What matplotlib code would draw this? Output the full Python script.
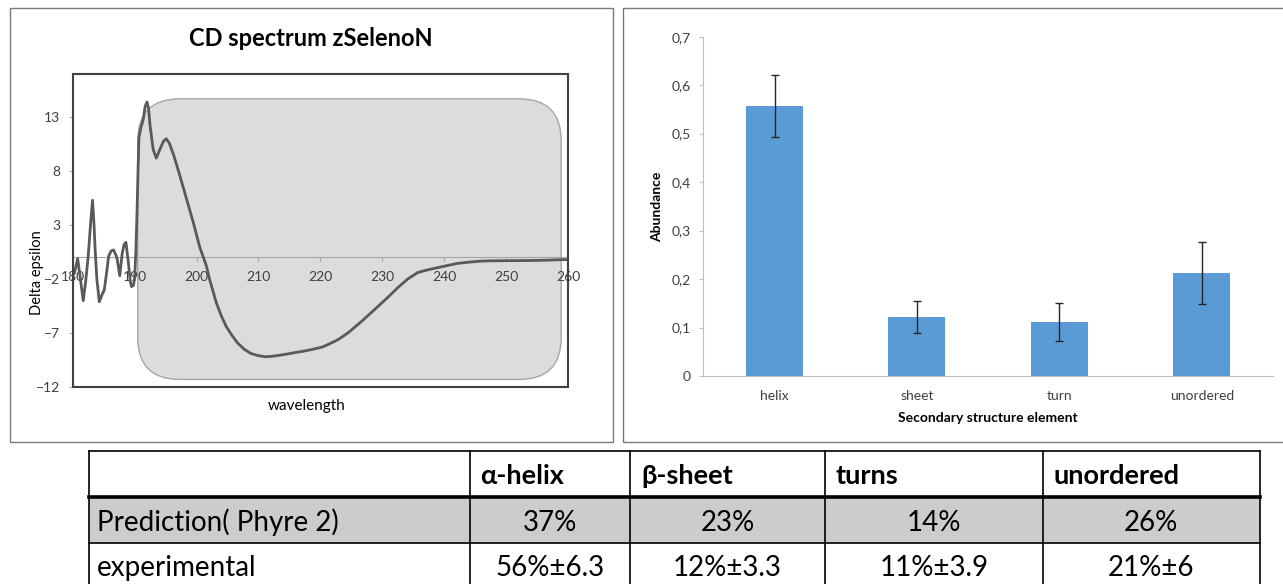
import matplotlib
matplotlib.use('Agg')
import matplotlib.pyplot as plt
from matplotlib.patches import Rectangle, FancyBboxPatch
from matplotlib.ticker import FuncFormatter

plt.rcParams['font.family'] = ['Lato', 'DejaVu Sans']

# CD spectrum
wavelength = [180.3, 180.8, 181.2, 181.7, 182.1, 182.5, 182.9, 183.2, 183.45, 183.6,
              183.9, 184.3, 184.7, 185.1, 185.5, 185.8, 186.2, 186.6, 187.0, 187.2,
              187.6, 188.0, 188.3, 188.6, 189.0, 189.3, 189.5, 189.8, 190.0, 190.2,
              190.4, 190.55, 190.7, 191.0, 191.4, 191.7, 192.0, 192.25, 192.5, 193.0,
              193.5, 194.0, 194.3, 194.7, 195.1, 195.6, 196.3, 197.3, 198.4, 199.5,
              200.5, 201.6, 202.1, 203.2, 204.0, 204.8, 205.7, 206.6, 207.7, 208.8,
              210.0, 211.2, 212.3, 213.3, 214.6, 216.0, 217.6, 219.2, 220.3, 221.3,
              222.9, 224.5, 226.7, 228.8, 230.7, 232.5, 234.1, 235.7, 237.3, 238.9,
              240.5, 242.1, 244.0, 245.8, 247.6, 249.5, 251.6, 253.8, 256.5, 259.1, 260.0]
delta_eps = [-1.4, -0.1, -1.8, -4.0, -2.2, 0.1, 3.2, 5.3, 3.0, 1.0,
             -2.0, -4.1, -3.5, -3.0, -1.3, 0.1, 0.6, 0.7, 0.2, -0.2,
             -1.7, 0.4, 1.2, 1.4, -0.5, -2.2, -2.7, -2.6, -2.0, 0.5,
             4.4, 8.0, 11.1, 12.0, 12.8, 14.0, 14.4, 13.8, 12.2, 10.0,
             9.2, 9.9, 10.3, 10.8, 11.0, 10.6, 9.5, 7.6, 5.4, 3.2,
             1.0, -0.8, -2.0, -4.2, -5.4, -6.4, -7.2, -7.9, -8.5, -8.9,
             -9.1, -9.2, -9.15, -9.07, -8.95, -8.8, -8.65, -8.45, -8.3, -8.05,
             -7.6, -6.97, -5.9, -4.8, -3.8, -2.8, -2.0, -1.4, -1.15, -0.95,
             -0.75, -0.55, -0.43, -0.34, -0.31, -0.3, -0.29, -0.28, -0.25, -0.2, -0.2]
cd_xticks = [180, 190, 200, 210, 220, 230, 240, 250, 260]
cd_yticks = [-12, -7, -2, 3, 8, 13]

# secondary structure bar chart
categories = ['helix', 'sheet', 'turn', 'unordered']
abundance = [0.557, 0.122, 0.112, 0.213]
abundance_err = [0.063, 0.033, 0.039, 0.064]

# table
table_header = ['', 'α-helix', 'β-sheet', 'turns', 'unordered']
pred_row = ['Prediction( Phyre 2)', '37%', '23%', '14%', '26%']
exp_row = ['experimental', '56%±6.3', '12%±3.3', '11%±3.9', '21%±6']

W, H = 1283, 584
fig = plt.figure(figsize=(W / 100, H / 100), dpi=100)


def frac(x0, y0, x1, y1):
    return [x0 / W, 1 - y1 / H, (x1 - x0) / W, (y1 - y0) / H]


# background layer in pixel coordinates: frames, labels, table
bg = fig.add_axes([0, 0, 1, 1], zorder=0)
bg.set_xlim(0, W)
bg.set_ylim(H, 0)
bg.axis('off')

frame_col = '#7A7A7A'
bg.add_patch(Rectangle((10, 8), 603, 434, fill=False, ec=frame_col, lw=1))
bg.add_patch(Rectangle((623, 8), 700, 434, fill=False, ec=frame_col, lw=1))

bg.text(311, 46, 'CD spectrum zSelenoN', ha='center', va='baseline',
        fontsize=17, fontweight='bold', color='black')
bg.text(307, 406, 'wavelength', ha='center', va='center', fontsize=11)
bg.text(37, 273, 'Delta epsilon', ha='center', va='center', rotation=90, fontsize=10.5)
bg.text(657, 207, 'Abundance', ha='center', va='center', rotation=90,
        fontsize=10, fontweight='bold')
bg.text(988, 418, 'Secondary structure element', ha='center', va='center',
        fontsize=10, fontweight='bold')

# table
col_x = [89, 469.5, 630, 825, 1042.7, 1260]
row_y = [451, 496.5, 543.3, 600]
bg.add_patch(Rectangle((col_x[0], row_y[1]), col_x[-1] - col_x[0], row_y[2] - row_y[1],
                       fc='#CCCCCC', ec='none'))
bg.plot([col_x[0], col_x[-1]], [row_y[0], row_y[0]], color='black', lw=1.2)
bg.plot([col_x[0], col_x[-1]], [row_y[1], row_y[1]], color='black', lw=2.6)
bg.plot([col_x[0], col_x[-1]], [row_y[2], row_y[2]], color='black', lw=1.2)
for cx in col_x:
    bg.plot([cx, cx], [row_y[0], H + 5], color='black', lw=1.2, clip_on=False)

for i, txt in enumerate(table_header):
    bg.text(col_x[i] + 11, 484.5, txt, ha='left', va='baseline',
            fontsize=19.5, fontweight='bold')
for row, base in [(pred_row, 531), (exp_row, 576)]:
    bg.text(col_x[0] + 8, base, row[0], ha='left', va='baseline', fontsize=20)
    for i in range(1, 5):
        bg.text((col_x[i] + col_x[i + 1]) / 2, base, row[i], ha='center',
                va='baseline', fontsize=20)

# CD spectrum
ax1 = fig.add_axes(frac(72.7, 74, 568, 387), zorder=1)
ax1.set_xlim(180, 260)
ax1.set_ylim(-12, 17)
box = FancyBboxPatch((190.5, -11.3), 258.9 - 190.5, 14.7 + 11.3,
                     boxstyle='round,pad=0,rounding_size=6.8', mutation_aspect=0.57,
                     fc='#DCDCDC', ec='#A6A6A6', lw=1, zorder=0.5)
ax1.add_patch(box)
ax1.plot(wavelength, delta_eps, color='#595959', lw=2, zorder=3)
for s in ['top', 'right', 'left']:
    ax1.spines[s].set_visible(False)
ax1.spines['bottom'].set_position(('data', 0))
ax1.spines['bottom'].set_color('#A6A6A6')
ax1.spines['bottom'].set_zorder(2)
ax1.add_patch(Rectangle((0, 0), 1, 1, transform=ax1.transAxes, fill=False,
                        ec='#404040', lw=1.5, zorder=4, clip_on=False))
ax1.set_xticks(cd_xticks)
ax1.set_yticks(cd_yticks)
ax1.tick_params(axis='x', direction='out', length=3, color='#A6A6A6', pad=7,
                labelsize=10, labelcolor='#404040')
ax1.tick_params(axis='y', direction='out', length=3, color='#A6A6A6', pad=6,
                labelsize=10, labelcolor='#404040')

# bar chart
ax2 = fig.add_axes(frac(703.3, 36.7, 1273, 376), zorder=1)
ax2.bar(range(len(categories)), abundance, width=0.4, color='#5B9BD5',
        yerr=abundance_err, ecolor='#262626',
        error_kw=dict(elinewidth=1, capsize=2.8, capthick=1))
ax2.set_xlim(-0.5, 3.5)
ax2.set_ylim(0, 0.7)
ax2.set_yticks([0, 0.1, 0.2, 0.3, 0.4, 0.5, 0.6, 0.7])
ax2.yaxis.set_major_formatter(FuncFormatter(lambda v, p: ('%g' % round(v, 2)).replace('.', ',')))
ax2.set_xticks(range(len(categories)))
ax2.set_xticklabels(categories)
for s in ['top', 'right']:
    ax2.spines[s].set_visible(False)
ax2.spines['left'].set_color('#BFBFBF')
ax2.spines['bottom'].set_color('#BFBFBF')
ax2.tick_params(axis='y', direction='out', length=3, color='#BFBFBF', pad=6,
                labelsize=10, labelcolor='#404040')
ax2.tick_params(axis='x', length=0, pad=10, labelsize=10, labelcolor='#404040')

fig.savefig('out.png', dpi=100)
